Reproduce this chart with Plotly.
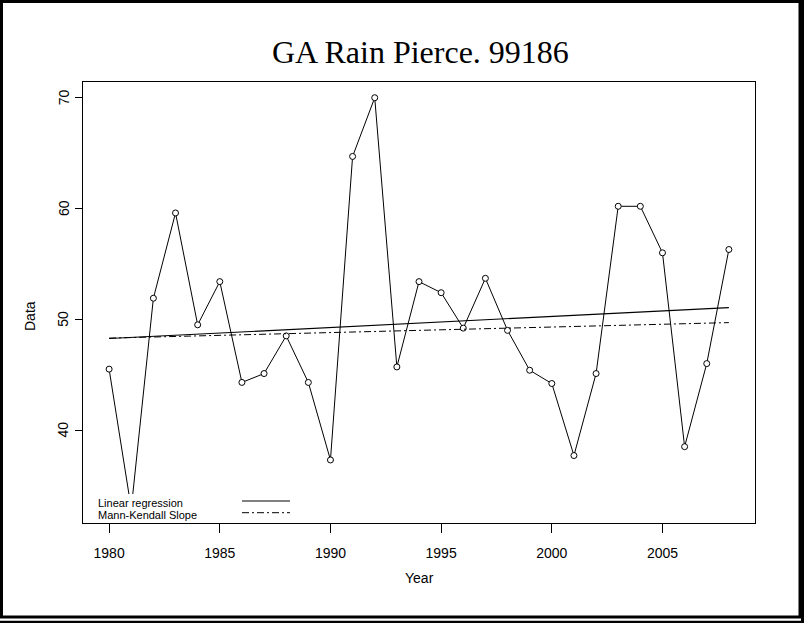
import numpy as np
import plotly.graph_objects as go

# ---- data ----
years = list(range(1980, 2009))
rain = [45.5, 32.9, 51.9, 59.6, 49.5, 53.4, 44.3, 45.1, 48.5, 44.3,
        37.3, 64.7, 70.0, 45.7, 53.4, 52.4, 49.2, 53.7, 49.0, 45.4,
        44.2, 37.7, 45.1, 60.2, 60.2, 56.0, 38.5, 46.0, 56.3]
x_ticks = [1980, 1985, 1990, 1995, 2000, 2005]
y_ticks = [40, 50, 60, 70]
title_text = "GA Rain Pierce. 99186"
legend_labels = ["Linear regression", "Mann-Kendall Slope"]

x = np.array(years, dtype=float)
y = np.array(rain, dtype=float)

# linear regression
b1, b0 = np.polyfit(x, y, 1)
reg_x = [x[0], x[-1]]
reg_y = [b0 + b1 * x[0], b0 + b1 * x[-1]]

# Sen / Mann-Kendall slope
slopes = []
for i in range(len(x)):
    for j in range(i + 1, len(x)):
        slopes.append((y[j] - y[i]) / (x[j] - x[i]))
sen = np.median(slopes)
mk_y = [np.median(y) + sen * (xx - np.median(x)) for xx in reg_x]

W, H = 804, 623
L, R, T, B = 83, 49, 82, 100
PW, PH = W - L - R, H - T - B


def px(xp):
    return (xp - L) / PW


def py(yp):
    return (H - B - yp) / PH


fig = go.Figure()
fig.add_trace(go.Scatter(x=years, y=rain, mode="lines+markers",
                         line=dict(color="black", width=1),
                         marker=dict(symbol="circle", size=6, color="white",
                                     line=dict(color="black", width=1)),
                         showlegend=False))
fig.add_trace(go.Scatter(x=reg_x, y=reg_y, mode="lines",
                         line=dict(color="black", width=1.1), showlegend=False))
fig.add_trace(go.Scatter(x=reg_x, y=mk_y, mode="lines",
                         line=dict(color="black", width=1, dash="7px,3px,2px,3px"),
                         showlegend=False))

axis_font = dict(family="Arial, Liberation Sans, sans-serif", size=14, color="black")
fig.update_layout(
    width=W, height=H,
    margin=dict(l=L, r=R, t=T, b=B, pad=0),
    paper_bgcolor="white", plot_bgcolor="white",
    xaxis=dict(range=[1978.82, 2009.18], tickvals=x_ticks, ticks="outside",
               ticklen=9, tickcolor="black", tickwidth=1, showgrid=False,
               zeroline=False, showline=True, linecolor="black", linewidth=1,
               mirror=True, tickfont=axis_font, ticklabelstandoff=8),
    yaxis=dict(range=[31.61, 71.42], tickvals=y_ticks, ticks="outside",
               ticklen=7, tickcolor="black", tickwidth=1, showgrid=False,
               zeroline=False, showline=True, linecolor="black", linewidth=1,
               mirror=True, showticklabels=False),
)

annotations = [
    dict(text=title_text, x=px(420), y=py(52), xref="paper", yref="paper",
         showarrow=False, xanchor="center", yanchor="middle",
         font=dict(family="Times New Roman, Liberation Serif, serif", size=32, color="black")),
    dict(text="Year", x=px(419), y=py(578), xref="paper", yref="paper",
         showarrow=False, xanchor="center", yanchor="middle", font=axis_font),
    dict(text="Data", x=px(30), y=py(316), xref="paper", yref="paper",
         showarrow=False, xanchor="center", yanchor="middle", textangle=-90,
         font=axis_font),
    dict(text=legend_labels[0], x=px(96), y=py(502.5), xref="paper", yref="paper",
         showarrow=False, xanchor="left", yanchor="middle",
         font=dict(family="Arial, Liberation Sans, sans-serif", size=11, color="black")),
    dict(text=legend_labels[1], x=px(96), y=py(515), xref="paper", yref="paper",
         showarrow=False, xanchor="left", yanchor="middle",
         font=dict(family="Arial, Liberation Sans, sans-serif", size=11, color="black")),
]
for v in y_ticks:
    annotations.append(dict(text=str(v), x=px(63.5), y=v, xref="paper", yref="y",
                            showarrow=False, xanchor="center", yanchor="middle",
                            textangle=-90, font=axis_font))
fig.update_layout(annotations=annotations)

shapes = [
    # legend background
    dict(type="rect", xref="paper", yref="paper", x0=px(92), x1=px(296),
         y0=py(521.5), y1=py(494), fillcolor="white", line=dict(width=0), layer="above"),
    dict(type="line", xref="paper", yref="paper", x0=px(242), x1=px(290),
         y0=py(501), y1=py(501), line=dict(color="black", width=1), layer="above"),
    dict(type="line", xref="paper", yref="paper", x0=px(242), x1=px(290),
         y0=py(512.7), y1=py(512.7), line=dict(color="black", width=1, dash="7px,3px,2px,3px"),
         layer="above"),
    # outer frame
    dict(type="rect", xref="paper", yref="paper", x0=px(1.5), x1=px(800),
         y0=py(617), y1=py(1.5), line=dict(color="black", width=3), fillcolor="rgba(0,0,0,0)",
         layer="above"),
    dict(type="line", xref="paper", yref="paper", x0=px(0), x1=px(804),
         y0=py(622), y1=py(622), line=dict(color="black", width=2.5), layer="above"),
    dict(type="line", xref="paper", yref="paper", x0=px(802.5), x1=px(802.5),
         y0=py(623), y1=py(0), line=dict(color="black", width=3), layer="above"),
]
fig.update_layout(shapes=shapes)

fig.write_html("out.html", config={"displayModeBar": False, "staticPlot": True},
               post_script="document.body.style.margin='0';document.body.style.overflow='hidden';")
